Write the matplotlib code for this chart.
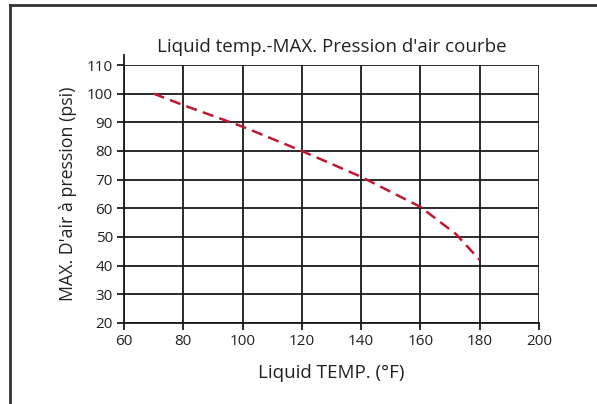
import matplotlib.pyplot as plt
from matplotlib.lines import Line2D

plt.rcParams['font.family'] = ['Open Sans', 'DejaVu Sans']

# curve
temp_f = [70, 80, 100, 120, 140, 160, 172, 180]
max_psi = [100, 96, 88.5, 80, 71, 60.5, 51, 42]

x_ticks = [60, 80, 100, 120, 140, 160, 180, 200]
y_ticks = [20, 30, 40, 50, 60, 70, 80, 90, 100, 110]

fig = plt.figure(figsize=(5.97, 4.04), dpi=100)
ax = fig.add_axes([124 / 597, 1 - 323 / 404, (539 - 124) / 597, (323 - 65) / 404])

ax.plot(temp_f, max_psi, color='#c0182e', lw=1.8, dashes=(4.5, 2.5))

ax.set_xlim(60, 200)
ax.set_ylim(20, 110)
ax.set_xticks(x_ticks)
ax.set_yticks(y_ticks)
ax.grid(True, color='#1a1a1a', lw=1.3)
ax.set_axisbelow(True)
for s in ['top', 'right']:
    ax.spines[s].set_visible(False)
for s in ['left', 'bottom']:
    ax.spines[s].set_color('#1a1a1a')
    ax.spines[s].set_linewidth(1.3)
ax.spines['left'].set_bounds(20, 113.5)
ax.tick_params(direction='out', length=5, width=1.3, color='#1a1a1a',
               labelsize=11, labelcolor='#222222', pad=3)
ax.set_xlabel('Liquid TEMP. (°F)', fontsize=13.5, color='#222222', labelpad=11)
ax.set_ylabel("MAX. D'air à pression (psi)", fontsize=12.8, color='#222222', labelpad=7)
ax.set_title("Liquid temp.-MAX. Pression d'air courbe", fontsize=13.5,
             color='#222222', pad=9)

# outer frame: top and left edges
fig.add_artist(Line2D([10 / 597, 1], [1 - 5 / 404] * 2, transform=fig.transFigure,
                      color='#333333', lw=2))
fig.add_artist(Line2D([10 / 597] * 2, [0, 1 - 5 / 404], transform=fig.transFigure,
                      color='#333333', lw=2))

fig.savefig('out.png', dpi=100)
